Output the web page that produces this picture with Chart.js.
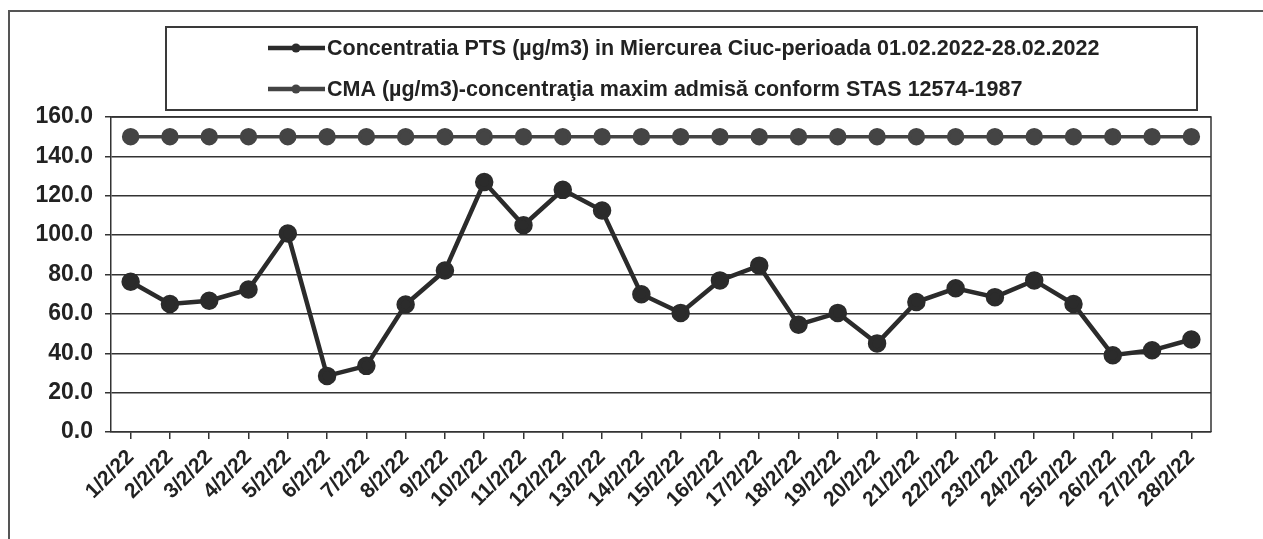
<!DOCTYPE html>
<html>
<head>
<meta charset="utf-8">
<script src="https://cdn.jsdelivr.net/npm/chart.js@4"></script>
<style>
  html, body { margin: 0; padding: 0; background: #fff; }
  #wrap { width: 1263px; height: 539px; }
</style>
</head>
<body>
<div id="wrap"><canvas id="grafic"></canvas></div>
<script>
const labels = ['1/2/22','2/2/22','3/2/22','4/2/22','5/2/22','6/2/22','7/2/22','8/2/22','9/2/22','10/2/22',
  '11/2/22','12/2/22','13/2/22','14/2/22','15/2/22','16/2/22','17/2/22','18/2/22','19/2/22','20/2/22',
  '21/2/22','22/2/22','23/2/22','24/2/22','25/2/22','26/2/22','27/2/22','28/2/22'];

const pts = [76.3, 65.0, 66.7, 72.4, 100.8, 28.5, 33.6, 64.8, 82.0, 127.0,
  105.0, 123.0, 112.5, 70.0, 60.5, 77.0, 84.5, 54.5, 60.5, 45.0,
  66.0, 73.0, 68.5, 77.0, 65.0, 39.0, 41.5, 47.0];

const cma = [150, 150, 150, 150, 150, 150, 150, 150, 150, 150,
  150, 150, 150, 150, 150, 150, 150, 150, 150, 150,
  150, 150, 150, 150, 150, 150, 150, 150];

const legendTexts = [
  'Concentratia PTS (µg/m3) in Miercurea Ciuc-perioada 01.02.2022-28.02.2022',
  'CMA (µg/m3)-concentraţia maxim admisă conform STAS 12574-1987'
];

const FONT = "'Liberation Sans', Arial, sans-serif";
const c1 = '#2b2b2b';
const c2 = '#444444';

// rama, chenarul legendei si marginea dreapta a graficului
const ramaPlugin = {
  id: 'rama',
  afterDraw(chart) {
    const ctx = chart.ctx;
    const a = chart.chartArea;
    ctx.save();
    ctx.strokeStyle = '#555';
    ctx.lineWidth = 2;
    ctx.beginPath();
    ctx.moveTo(9, 539);
    ctx.lineTo(9, 11);
    ctx.lineTo(1263, 11);
    ctx.stroke();

    ctx.strokeStyle = '#3a3a3a';
    ctx.strokeRect(166, 27, 1031, 83);

    ctx.lineWidth = 1.5;
    ctx.strokeStyle = '#333';
    ctx.beginPath();
    ctx.moveTo(a.left, a.top);
    ctx.lineTo(a.right, a.top);
    ctx.lineTo(a.right, a.bottom);
    ctx.stroke();

    const colors = [c1, c2];
    const rows = [48, 89];
    ctx.font = 'bold 21.5px ' + FONT;
    ctx.textBaseline = 'middle';
    ctx.textAlign = 'left';
    rows.forEach((y, i) => {
      ctx.strokeStyle = colors[i];
      ctx.fillStyle = colors[i];
      ctx.lineWidth = 4.5;
      ctx.beginPath();
      ctx.moveTo(268, y);
      ctx.lineTo(325, y);
      ctx.stroke();
      ctx.beginPath();
      ctx.arc(296, y, 4.5, 0, Math.PI * 2);
      ctx.fill();
      ctx.fillStyle = '#222';
      ctx.fillText(legendTexts[i], 327, y + 1);
    });
    ctx.restore();
  }
};

const data = {
  labels,
  datasets: [{
    label: legendTexts[0],
    data: pts,
    borderColor: c1,
    backgroundColor: c1,
    borderWidth: 4.5,
    pointRadius: 7,
    pointBackgroundColor: c1,
    pointBorderColor: c1,
    tension: 0
  }, {
    label: legendTexts[1],
    data: cma,
    borderColor: c2,
    backgroundColor: c2,
    borderWidth: 3.5,
    pointRadius: 7,
    pointBackgroundColor: c2,
    pointBorderColor: c2,
    tension: 0
  }]
};

const chart = new Chart(document.getElementById('grafic'), {
  type: 'line',
  data: data,
  plugins: [ramaPlugin],
  options: {
    responsive: true,
    maintainAspectRatio: false,
    animation: false,
    layout: { padding: { top: 117, right: 52, left: 31, bottom: 0 } },
    plugins: {
      legend: { display: false },
      tooltip: { enabled: false }
    },
    scales: {
      x: {
        offset: true,
        afterFit: (axis) => { axis.height = 107; },
        grid: { drawOnChartArea: false, drawTicks: true, tickLength: 7, color: '#333', lineWidth: 1.5 },
        border: { display: true, color: '#333', width: 1.5 },
        ticks: {
          autoSkip: false,
          maxRotation: 45,
          minRotation: 45,
          color: '#222',
          padding: 6,
          font: { family: FONT, size: 21, weight: 'bold' }
        }
      },
      y: {
        min: 0,
        max: 160,
        afterFit: (axis) => { axis.width = 80; },
        grid: { color: '#333', lineWidth: 1.5, tickLength: 6 },
        border: { display: true, color: '#333', width: 1.5 },
        ticks: {
          stepSize: 20,
          color: '#222',
          padding: 12,
          font: { family: FONT, size: 23, weight: 'bold' },
          callback: (v) => v.toFixed(1)
        }
      }
    }
  }
});
</script>
</body>
</html>
